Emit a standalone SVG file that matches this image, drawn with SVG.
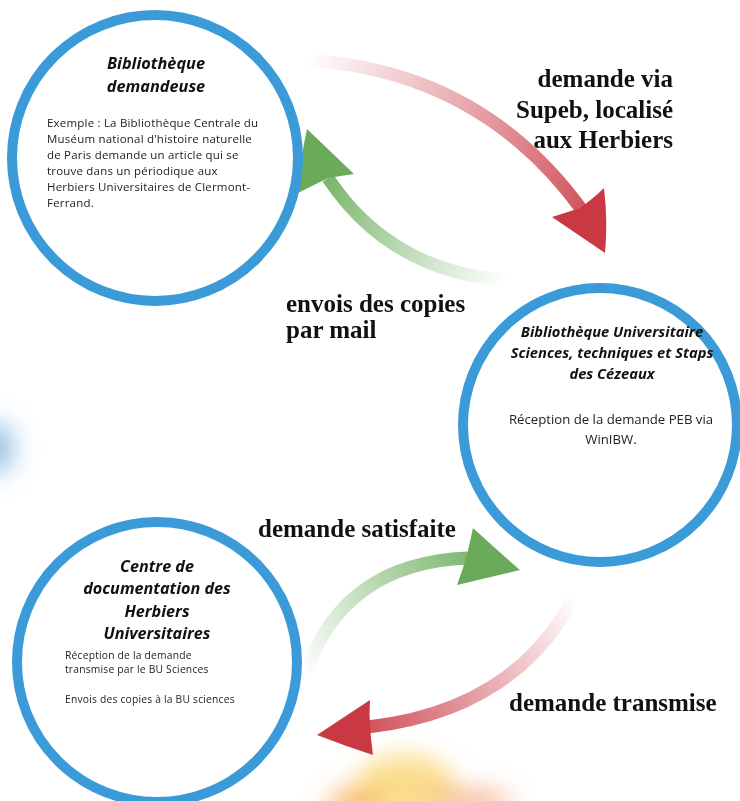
<svg xmlns="http://www.w3.org/2000/svg" width="740" height="801" viewBox="0 0 740 801">
<style>
.ring{fill:#fff;stroke:#3b9ad8;stroke-width:10}
.title{font-family:"Open Sans","DejaVu Sans",sans-serif;font-weight:700;font-style:italic;fill:#111;text-anchor:middle}
.body{font-family:"Open Sans","DejaVu Sans",sans-serif;fill:#222}
.lbl{font-family:"Liberation Serif","DejaVu Serif",serif;font-weight:700;font-size:25px;fill:#111}
.shaft{fill:none;stroke-width:13;stroke-linecap:butt}
</style>
<defs>
<filter id="blur" x="-100%" y="-100%" width="300%" height="300%"><feGaussianBlur stdDeviation="12"/></filter>
<linearGradient id="gR1" gradientUnits="userSpaceOnUse" x1="305" y1="60" x2="585" y2="215"><stop offset="0" stop-color="#c93541" stop-opacity="0"/><stop offset="1" stop-color="#c93541" stop-opacity="0.85"/></linearGradient>
<linearGradient id="gG1" gradientUnits="userSpaceOnUse" x1="505" y1="282" x2="325" y2="175"><stop offset="0" stop-color="#6aac5a" stop-opacity="0"/><stop offset="1" stop-color="#6aac5a" stop-opacity="0.9"/></linearGradient>
<linearGradient id="gG2" gradientUnits="userSpaceOnUse" x1="305" y1="675" x2="470" y2="558"><stop offset="0" stop-color="#6aac5a" stop-opacity="0"/><stop offset="1" stop-color="#6aac5a" stop-opacity="0.85"/></linearGradient>
<linearGradient id="gR2" gradientUnits="userSpaceOnUse" x1="574" y1="597" x2="368" y2="727"><stop offset="0" stop-color="#c93541" stop-opacity="0"/><stop offset="1" stop-color="#c93541" stop-opacity="0.85"/></linearGradient>
</defs>
<rect width="740" height="801" fill="#fff"/>
<g id="bg-blobs" filter="url(#blur)">
<ellipse cx="-4" cy="448" rx="18" ry="26" fill="#7fb3df" opacity="0.8"/>
<ellipse cx="405" cy="787" rx="50" ry="32" fill="#f9d87e" opacity="0.9"/>
<ellipse cx="355" cy="805" rx="28" ry="16" fill="#f6b060" opacity="0.85"/>
<ellipse cx="470" cy="801" rx="42" ry="12" fill="#f2a478" opacity="0.75"/>
</g>
<g id="connectors">
<path class="shaft" stroke="url(#gR1)" d="M 305 60 Q 480 70 582 210"/>
<path fill="#c93843" d="M 605 253 L 552 217 Q 568 212 580 208 Q 595 197 604 188 Q 608 222 605 253 Z"/>
<path class="shaft" stroke="url(#gG1)" stroke-width="15" d="M 510 281 Q 390 272 328 178"/>
<path fill="#6aaa5a" d="M 307 129 L 354 174 Q 340 176 328 178 Q 312 186 298 193 Q 300 160 307 129 Z"/>
<path class="shaft" stroke="url(#gG2)" d="M 305 675 Q 342 563 468 558"/>
<path fill="#6aaa5a" d="M 520 570 L 457 585 Q 462 572 466 558 Q 470 543 473 528 Q 497 550 520 570 Z"/>
<path class="shaft" stroke="url(#gR2)" d="M 574 597 Q 515 710 368 727"/>
<path fill="#c93843" d="M 317 735 L 370 700 Q 369 713 370 727 Q 371 741 373 755 Q 345 746 317 735 Z"/>
<text class="lbl" text-anchor="end" x="673" y="87">demande via</text>
<text class="lbl" text-anchor="end" x="673" y="118">Supeb, localisé</text>
<text class="lbl" text-anchor="end" x="673" y="148">aux Herbiers</text>
<text class="lbl" font-size="23" x="286" y="312">envois des copies</text>
<text class="lbl" font-size="23" x="286" y="338">par mail</text>
<text class="lbl" x="258" y="537">demande satisfaite</text>
<text class="lbl" x="509" y="711">demande transmise</text>
</g>
<g id="node-demandeuse">
<circle class="ring" cx="155" cy="158" r="143"/>
<text class="title" font-size="16.3" x="156" y="69">Bibliothèque</text>
<text class="title" font-size="16.3" x="156" y="92">demandeuse</text>
<g class="body" font-size="11.5" letter-spacing="0.2">
<text x="47" y="127">Exemple : La Bibliothèque Centrale du</text>
<text x="47" y="143">Muséum national d'histoire naturelle</text>
<text x="47" y="159">de Paris demande un article qui se</text>
<text x="47" y="175">trouve dans un périodique aux</text>
<text x="47" y="191">Herbiers Universitaires de Clermont-</text>
<text x="47" y="207">Ferrand.</text>
</g>
</g>
<g id="node-bu-sciences">
<circle class="ring" cx="600" cy="425" r="137"/>
<text class="title" font-size="14.7" x="612" y="337">Bibliothèque Universitaire</text>
<text class="title" font-size="14.7" x="612" y="358">Sciences, techniques et Staps</text>
<text class="title" font-size="14.7" x="612" y="379">des Cézeaux</text>
<text class="body" font-size="13.2" text-anchor="middle" x="611" y="424">Réception de la demande PEB via</text>
<text class="body" font-size="13.2" text-anchor="middle" x="611" y="444">WinIBW.</text>
</g>
<g id="node-herbiers">
<circle class="ring" cx="157" cy="662" r="140"/>
<text class="title" font-size="16.2" x="157" y="572">Centre de</text>
<text class="title" font-size="16.2" x="157" y="594">documentation des</text>
<text class="title" font-size="16.2" x="157" y="617">Herbiers</text>
<text class="title" font-size="16.2" x="157" y="639">Universitaires</text>
<g class="body" font-size="10.3" letter-spacing="0.2">
<text x="65" y="659">Réception de la demande</text>
<text x="65" y="673">transmise par le BU Sciences</text>
<text x="65" y="703">Envois des copies à la BU sciences</text>
</g>
</g>
</svg>
